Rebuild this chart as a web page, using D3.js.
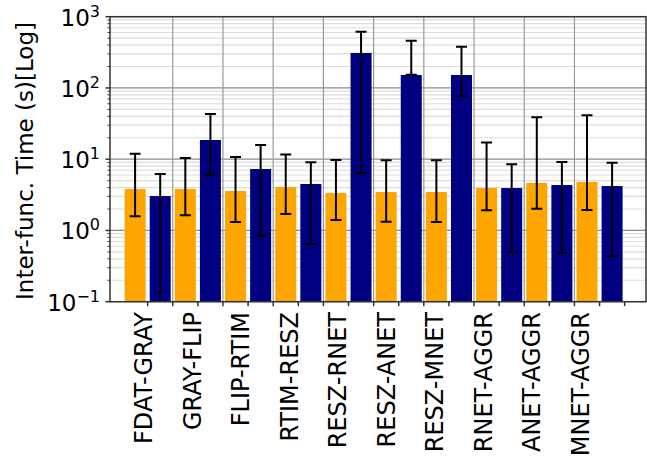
<!DOCTYPE html>
<html><head><meta charset="utf-8">
<script src="https://cdn.jsdelivr.net/npm/d3@7"></script>
<style>body{margin:0;background:#fff}text{font-family:"DejaVu Sans",sans-serif}</style>
</head><body><svg id="c" width="647" height="466"></svg>
<script>
const categories = ["FDAT-GRAY","GRAY-FLIP","FLIP-RTIM","RTIM-RESZ","RESZ-RNET","RESZ-ANET","RESZ-MNET","RNET-AGGR","ANET-AGGR","MNET-AGGR"];
const orangeVals = [3.82, 3.82, 3.58, 4.07, 3.35, 3.46, 3.46, 3.94, 4.63, 4.79];
const orangeLo   = [1.58, 1.63, 1.31, 1.70, 1.40, 1.33, 1.31, 1.92, 2.02, 1.94];
const orangeHi   = [11.9, 10.4, 10.7, 11.6, 9.75, 9.65, 9.65, 17.1, 38.7, 41.3];
const navyVals   = [3.04, 18.6, 7.28, 4.49, 310, 152, 152, 3.94, 4.34, 4.2];
const navyLo     = [0.05, 5.94, 0.84, 0.645, 6.4, 153, 76.4, 0.50, 0.483, 0.434];
const navyHi     = [6.2, 43, 15.8, 9.04, 616, 460, 379, 8.48, 9.1, 8.93];
const yTickExp   = [-1, 0, 1, 2, 3];

const svg = d3.select("#c");
const L = 110, R = 646, T = 16.7, B = 301.7;
const x = d3.scaleLinear().domain([-1, 20.35]).range([L, R]);
const y = d3.scaleLog().domain([0.1, 1000]).range([B, T]);
const labelX = d3.scalePoint().domain(categories).range([143.3, 580]);
const barW = x(0.837) - x(0);

svg.append("defs").append("clipPath").attr("id","clip")
  .append("rect").attr("x",L).attr("y",T).attr("width",R-L).attr("height",B-T);

// minor horizontal grid
const minor = [];
for (let e = -1; e < 3; e++) for (let m = 2; m <= 9; m++) minor.push(m * Math.pow(10, e));
svg.append("g").selectAll("line").data(minor).join("line")
  .attr("x1",L).attr("x2",R).attr("y1",d=>y(d)).attr("y2",d=>y(d))
  .attr("stroke","#dcdcdc").attr("stroke-width",1.2);
// major horizontal grid
svg.append("g").selectAll("line").data(yTickExp).join("line")
  .attr("x1",L).attr("x2",R).attr("y1",d=>y(Math.pow(10,d))).attr("y2",d=>y(Math.pow(10,d)))
  .attr("stroke","#8c8c8c").attr("stroke-width",1.2);
// vertical grid
const vgrid = d3.range(1, 18, 2).map(k => k + 0.5);
svg.append("g").selectAll("line").data(vgrid).join("line")
  .attr("x1",d=>x(d)).attr("x2",d=>x(d)).attr("y1",T).attr("y2",B)
  .attr("stroke","#9a9a9a").attr("stroke-width",1.2);

// bars
const idx = d3.range(categories.length);
svg.append("g").selectAll("rect").data(idx).join("rect")
  .attr("x",i=>x(2*i)-barW/2).attr("width",barW)
  .attr("y",i=>y(orangeVals[i])).attr("height",i=>B-y(orangeVals[i]))
  .attr("fill","#FFA500");
svg.append("g").selectAll("rect").data(idx).join("rect")
  .attr("x",i=>x(2*i+1)-barW/2).attr("width",barW)
  .attr("y",i=>y(navyVals[i])).attr("height",i=>B-y(navyVals[i]))
  .attr("fill","#000080");

// error bars
function errs(pos, lo, hi) {
  const g = svg.append("g").attr("clip-path","url(#clip)").attr("stroke","#000").attr("stroke-width",2);
  idx.forEach(i => {
    const cx = x(pos(i));
    g.append("line").attr("x1",cx).attr("x2",cx).attr("y1",y(lo[i])).attr("y2",y(hi[i]));
    g.append("line").attr("x1",cx-5.5).attr("x2",cx+5.5).attr("y1",y(hi[i])).attr("y2",y(hi[i]));
    g.append("line").attr("x1",cx-5.5).attr("x2",cx+5.5).attr("y1",y(lo[i])).attr("y2",y(lo[i]));
  });
}
errs(i=>2*i, orangeLo, orangeHi);
errs(i=>2*i+1, navyLo, navyHi);

// spines
svg.append("rect").attr("x",L).attr("y",T).attr("width",R-L).attr("height",B-T)
  .attr("fill","none").attr("stroke","#333").attr("stroke-width",1.5);

// y ticks
svg.append("g").selectAll("line").data(yTickExp).join("line")
  .attr("x1",L-4.5).attr("x2",L).attr("y1",d=>y(Math.pow(10,d))).attr("y2",d=>y(Math.pow(10,d)))
  .attr("stroke","#333").attr("stroke-width",1.5);
svg.append("g").selectAll("line").data(minor).join("line")
  .attr("x1",L-2.5).attr("x2",L).attr("y1",d=>y(d)).attr("y2",d=>y(d))
  .attr("stroke","#333").attr("stroke-width",1);
const yl = svg.append("g").selectAll("text").data(yTickExp).join("text")
  .attr("x",100).attr("y",d=>y(Math.pow(10,d))+9).attr("text-anchor","end")
  .attr("font-size",23).attr("fill","#000");
yl.append("tspan").text("10");
yl.append("tspan").attr("dy",-9).attr("font-size",16).text(d => d < 0 ? "\u2212" + (-d) : String(d));

// x ticks
svg.append("g").selectAll("line").data(d3.range(20).map(k=>k+0.5)).join("line")
  .attr("x1",d=>x(d)).attr("x2",d=>x(d)).attr("y1",B).attr("y2",B+4.5)
  .attr("stroke","#333").attr("stroke-width",1.5);
svg.append("g").selectAll("text").data(categories).join("text")
  .attr("transform",d=>`translate(${labelX(d)+8.8},312) rotate(-90)`)
  .attr("text-anchor","end").attr("font-size",24).attr("fill","#000").text(d=>d);

// y label
svg.append("text").attr("transform","translate(33,161) rotate(-90)")
  .attr("text-anchor","middle").attr("font-size",23).attr("fill","#000")
  .text("Inter-func. Time (s)[Log]");
</script></body></html>
